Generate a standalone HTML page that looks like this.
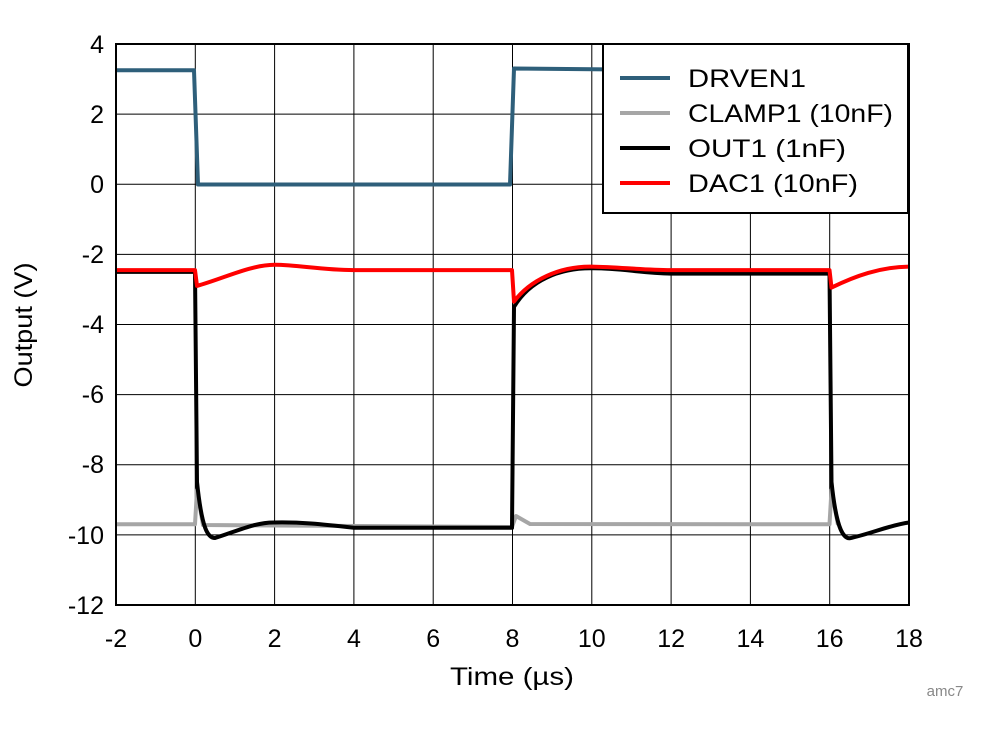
<!DOCTYPE html>
<html><head><style>body{margin:0;background:#fff}svg{display:block;font-family:"Liberation Sans",sans-serif}</style></head><body>
<svg width="992" height="734" viewBox="0 0 992 734">
<g stroke="#000" stroke-width="1">
<line x1="195.3" y1="44" x2="195.3" y2="605"/><line x1="274.6" y1="44" x2="274.6" y2="605"/><line x1="353.9" y1="44" x2="353.9" y2="605"/><line x1="433.2" y1="44" x2="433.2" y2="605"/><line x1="512.5" y1="44" x2="512.5" y2="605"/><line x1="591.8" y1="44" x2="591.8" y2="605"/><line x1="671.1" y1="44" x2="671.1" y2="605"/><line x1="750.4" y1="44" x2="750.4" y2="605"/><line x1="829.7" y1="44" x2="829.7" y2="605"/>
<line x1="116" y1="114.1" x2="909" y2="114.1"/><line x1="116" y1="184.2" x2="909" y2="184.2"/><line x1="116" y1="254.4" x2="909" y2="254.4"/><line x1="116" y1="324.5" x2="909" y2="324.5"/><line x1="116" y1="394.6" x2="909" y2="394.6"/><line x1="116" y1="464.7" x2="909" y2="464.7"/><line x1="116" y1="534.9" x2="909" y2="534.9"/>
</g>
<g fill="none" stroke-linejoin="round">
<path d="M116,524.3 L195,524.3 L197,490 L203,525 L512,527 L516,516 L530,524 L829.5,524.3 L831.5,490 L838,525" stroke="#a6a6a6" stroke-width="4"/>
<path d="M116,271.9 L195,271.9 L197,482 C202,530 208,538 215,538 C235,532 255,522 275,522.5 C300,522 320,524 354,527.8 L512,527.8 L514,306.9 C530,280 560,268 591.8,268.3 C620,268 640,273 671,273.6 L829.5,273.6 L831.5,482 C836,525 842,538 849.5,538.3 C870,534 890,525 909,522.5" stroke="#000" stroke-width="4"/>
<path d="M116,270.1 L195,270.1 L197,285.9 C225,278 250,265 274.6,264.8 C300,265 320,270 354,270.1 L512,270.1 L514,301.6 C530,280 560,266 591.8,266.6 C620,267 640,270 671,270.1 L829.5,270.1 L831.5,287.6 C855,276 880,267 909,266.6" stroke="#f00" stroke-width="4"/>
<path d="M116,70.3 L194,70.3 L198,184.5 L510,184.5 L514,68.5 L620,69.5" stroke="#2e5f7a" stroke-width="4"/>
</g>
<rect x="116" y="44" width="793" height="561" fill="none" stroke="#000" stroke-width="2"/>
<rect x="603" y="44" width="305" height="169" fill="#fff" stroke="#000" stroke-width="2"/>
<g stroke-width="4"><line x1="620" y1="78" x2="670" y2="78" stroke="#2e5f7a"/><line x1="620" y1="113" x2="670" y2="113" stroke="#a6a6a6"/><line x1="620" y1="148" x2="670" y2="148" stroke="#000"/><line x1="620" y1="183" x2="670" y2="183" stroke="#f00"/></g>
<g font-size="25" fill="#000"><text x="688" y="87" textLength="118" lengthAdjust="spacingAndGlyphs">DRVEN1</text><text x="688" y="122" textLength="205" lengthAdjust="spacingAndGlyphs">CLAMP1 (10nF)</text><text x="688" y="157" textLength="158" lengthAdjust="spacingAndGlyphs">OUT1 (1nF)</text><text x="688" y="192" textLength="170" lengthAdjust="spacingAndGlyphs">DAC1 (10nF)</text></g>
<g font-size="25" text-anchor="end"><text x="104" y="53">4</text><text x="104" y="123">2</text><text x="104" y="193">0</text><text x="104" y="263">-2</text><text x="104" y="333">-4</text><text x="104" y="403">-6</text><text x="104" y="473">-8</text><text x="104" y="544">-10</text><text x="104" y="614">-12</text></g>
<g font-size="25" text-anchor="middle"><text x="116" y="647">-2</text><text x="195.3" y="647">0</text><text x="274.6" y="647">2</text><text x="353.9" y="647">4</text><text x="433.2" y="647">6</text><text x="512.5" y="647">8</text><text x="591.8" y="647">10</text><text x="671.1" y="647">12</text><text x="750.4" y="647">14</text><text x="829.7" y="647">16</text><text x="909" y="647">18</text>
<text x="512" y="685" textLength="124" lengthAdjust="spacingAndGlyphs">Time (µs)</text>
<text transform="translate(32,325) rotate(-90)" textLength="125" lengthAdjust="spacingAndGlyphs">Output (V)</text></g>
<text x="945" y="696" font-size="15" fill="#888" text-anchor="middle">amc7</text>
</svg></body></html>
